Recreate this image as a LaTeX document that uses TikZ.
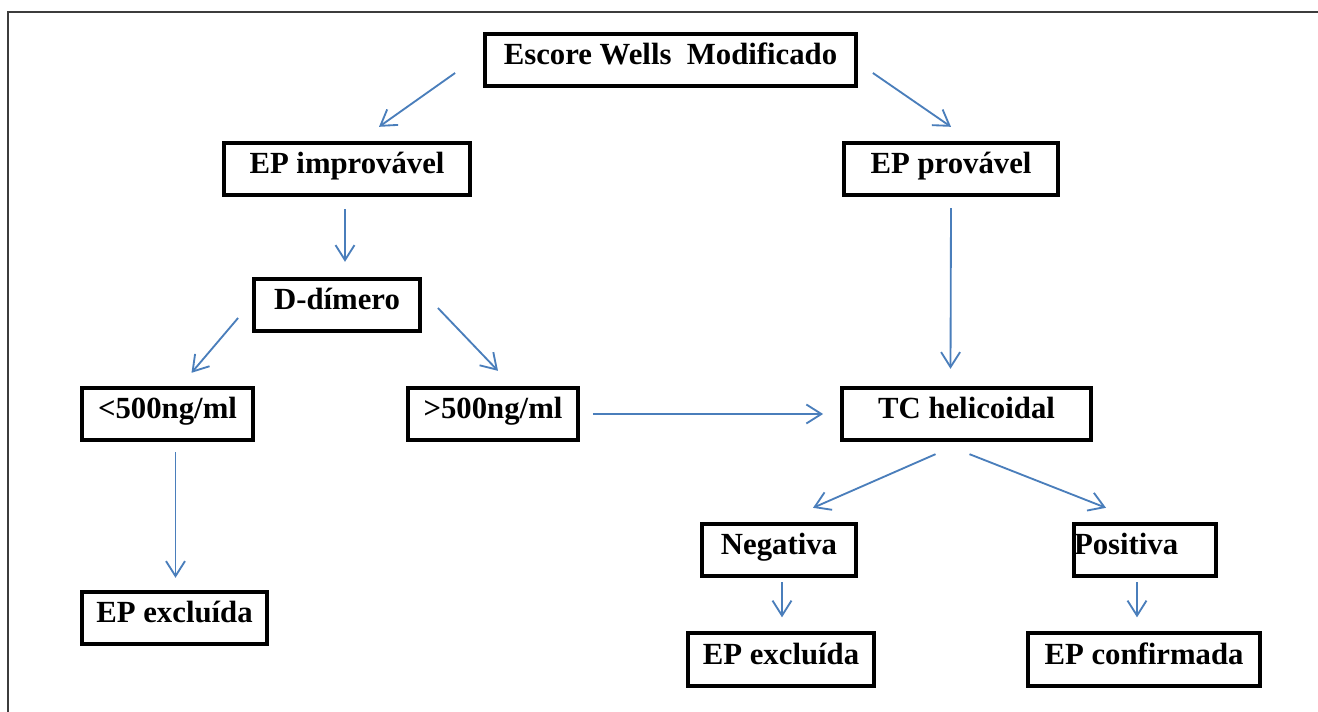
\documentclass[tikz,border=0pt]{standalone}
\usepackage{fontspec}
\setmainfont{Liberation Serif}
\usetikzlibrary{arrows.meta}

\definecolor{setaazul}{RGB}{74,126,187}
\definecolor{moldura}{RGB}{60,60,60}

\begin{document}
\begin{tikzpicture}[x=0.02cm, y=-0.02cm,
  caixa/.style={draw=black, line width=2.2pt, inner xsep=0pt, inner ysep=0pt,
    text height=0.62cm, text depth=0.43cm, font=\fontsize{17.5}{20}\selectfont\bfseries},
  seta/.style={setaazul, line width=1.05pt, -{Straight Barb[length=0.3cm, width=0.38cm]}}]

  \useasboundingbox (0,0) rectangle (1318,712);

  % moldura
  \draw[moldura, line width=1.1pt] (8,712) -- (8,12) -- (1318,12);

  % caixas
  \node[caixa, minimum width=7.42cm] (escore) at (670.5,60) {Escore Wells\ \ Modificado};

  \node[caixa, minimum width=4.92cm] (improv) at (347,169) {EP improvável};
  \node[caixa, minimum width=4.28cm] (prov) at (951,169) {EP provável};

  \node[caixa, minimum width=3.32cm] (ddim) at (337,305) {D-dímero};

  \node[caixa, minimum width=3.42cm] (menor) at (167.5,414) {<500ng/ml};
  \node[caixa, minimum width=3.40cm] (maior) at (493,414) {>500ng/ml};
  \node[caixa, minimum width=4.98cm] (tc) at (966.5,414) {TC helicoidal};

  \node[caixa, minimum width=3.70cm] (exclA) at (174.5,618) {EP excluída};

  \node[caixa, minimum width=3.08cm] (neg) at (779,550) {Negativa};
  \node[caixa, text width=2.84cm, align=left] (pos) at (1145,550) {Positiva};

  \node[caixa, minimum width=3.72cm] (exclB) at (781,659.5) {EP excluída};
  \node[caixa, minimum width=4.64cm] (conf) at (1144,659.5) {EP confirmada};

  % setas
  \draw[seta] ([shift={(-28,13)}]escore.west) -- ([shift={(32,-14)}]improv.north);
  \draw[seta] ([shift={(15,13)}]escore.east) -- ([shift={(0,-14)}]prov.north);

  \draw[seta] ([shift={(-2,12)}]improv.south) -- ([shift={(8,-15)}]ddim.north);
  \draw[seta] ([shift={(-14,13)}]ddim.west) -- ([shift={(24,-13)}]menor.north);
  \draw[seta] ([shift={(16,3)}]ddim.east) -- ([shift={(5,-15)}]maior.north);
  \draw[seta] ([shift={(8,10)}]menor.south) -- ([shift={(1,-12)}]exclA.north);

  \draw[seta] ([shift={(0,11)}]prov.south) -- ([shift={(-16,-17)}]tc.north);
  \draw[seta] ([shift={(13,0)}]maior.east) -- ([shift={(-17,0)}]tc.west);

  \draw[seta] ([shift={(-31,12)}]tc.south) -- ([shift={(34,-14)}]neg.north);
  \draw[seta] ([shift={(3,12)}]tc.south) -- ([shift={(-39,-14)}]pos.north);
  \draw[seta] ([shift={(3,4)}]neg.south) -- ([shift={(1,-14)}]exclB.north);
  \draw[seta] ([shift={(-8,4)}]pos.south) -- ([shift={(-7,-14)}]conf.north);

\end{tikzpicture}
\end{document}
